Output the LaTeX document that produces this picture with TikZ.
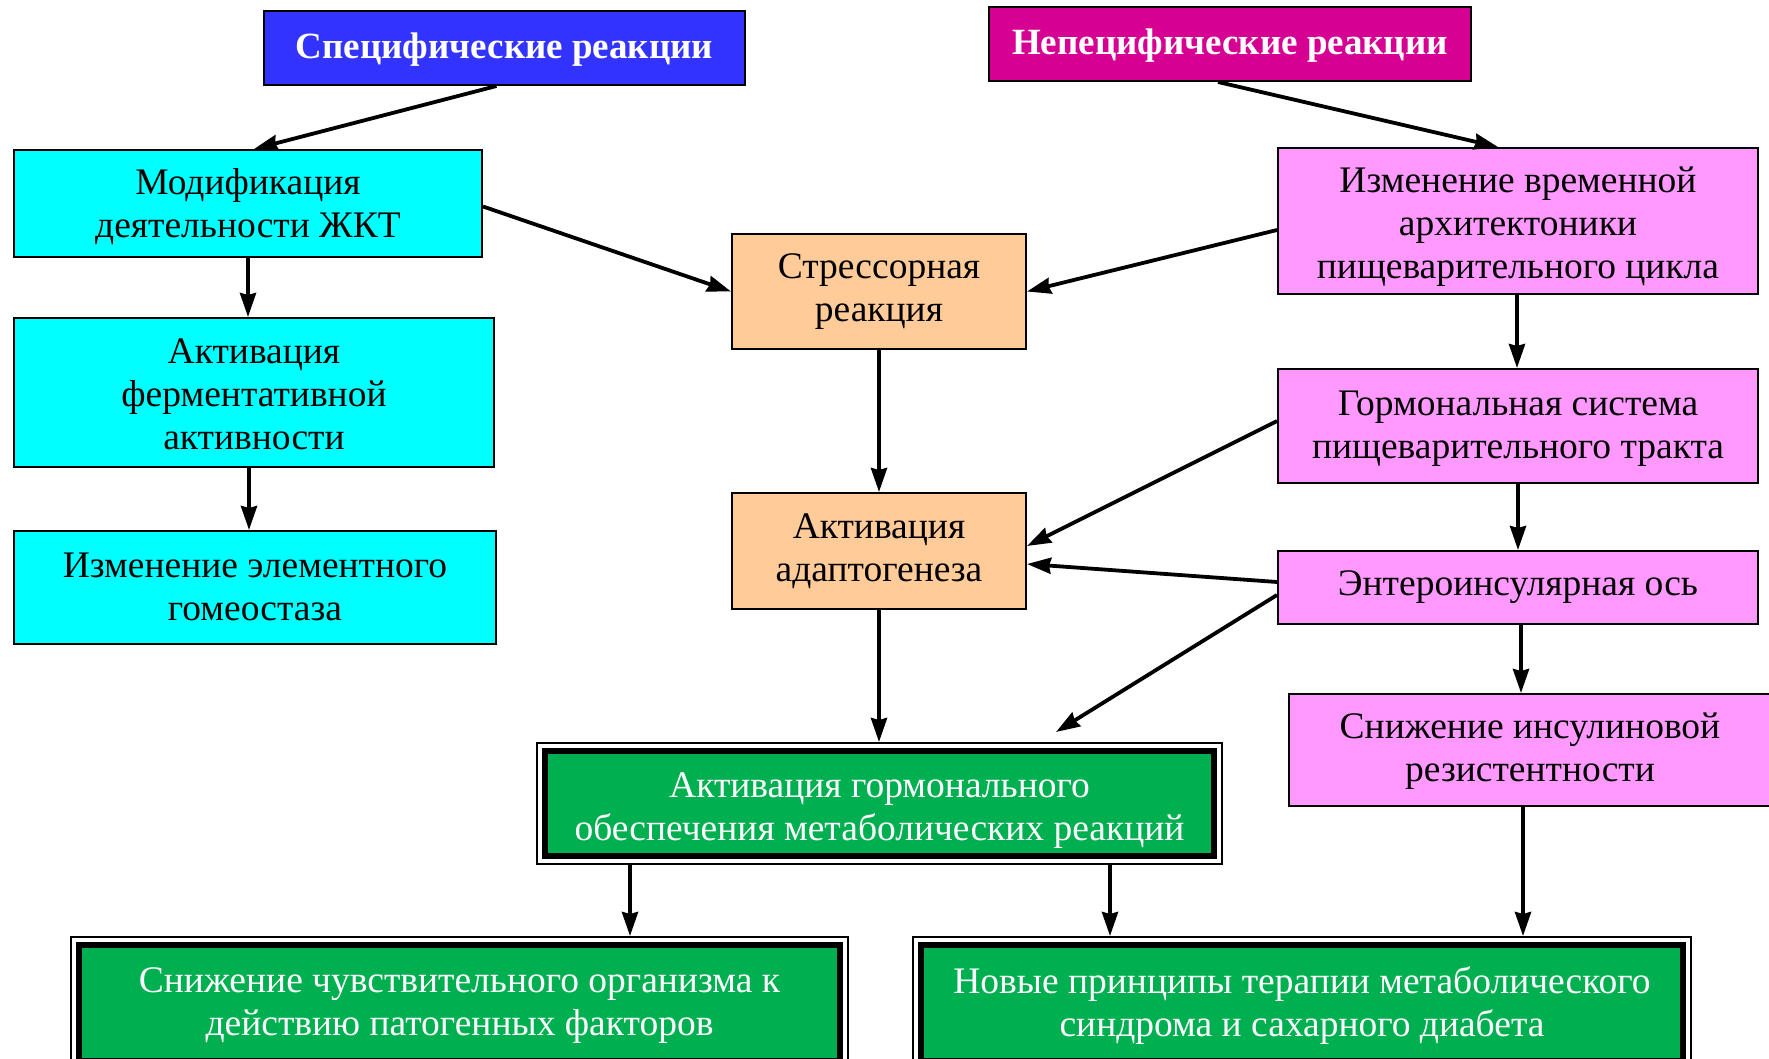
\documentclass[tikz,border=0pt]{standalone}
\usepackage{fontspec}
\setmainfont{Liberation Serif}
\usetikzlibrary{arrows.meta,calc}
\definecolor{cblue}{HTML}{3333FF}
\definecolor{cmag}{HTML}{D60093}
\definecolor{ccyan}{HTML}{00FFFF}
\definecolor{corange}{HTML}{FFCC99}
\definecolor{cpink}{HTML}{FF99FF}
\definecolor{cgreen}{HTML}{00B050}
\begin{document}
\begin{tikzpicture}[x=1pt,y=-1pt,
  box/.style={draw=black, line width=2pt, inner sep=0pt},
  txt/.style={inner sep=0pt, align=center, font=\fontsize{37.5}{43}\selectfont},
  hdrtxt/.style={inner sep=0pt, align=center, text=white, font=\bfseries\fontsize{37}{44}\selectfont},
  gframe/.style={draw=black, line width=2pt, inner sep=0pt, fill=white},
  ginner/.style={draw=black, line width=6pt, fill=cgreen, inner sep=0pt},
  gtxt/.style={txt, text=white},
  arr/.style={line width=3.8pt, -{Stealth[length=24pt,width=16pt,inset=2pt]}}
]
\fill[white] (0,0) rectangle (1769,1059);
\useasboundingbox (0,0) rectangle (1769,1059);

% headers
\node[box, fill=cblue, minimum width=481pt, minimum height=74pt] (spec) at (504.5,48) {};
\node[hdrtxt] (spect) at ([yshift=-2pt]spec.center) {Специфические реакции};
\node[box, fill=cmag, minimum width=482pt, minimum height=74pt] (nspec) at (1230,44) {};
\node[hdrtxt] (nspect) at ([yshift=-2pt]nspec.center) {Непецифические реакции};

% left column
\node[box, fill=ccyan, minimum width=468pt, minimum height=107pt] (c1) at (248,203.5) {};
\node[txt] (c1t) at ([yshift=-3.5pt]c1.center) {Модификация\\деятельности ЖКТ};
\node[box, fill=ccyan, minimum width=480pt, minimum height=149pt] (c2) at (254,392.5) {};
\node[txt] (c2t) at ([yshift=-2pt]c2.center) {Активация\\ферментативной\\активности};
\node[box, fill=ccyan, minimum width=482pt, minimum height=113pt] (c3) at (255,587.5) {};
\node[txt] (c3t) at ([yshift=1pt]c3.center) {Изменение элементного\\гомеостаза};

% middle column
\node[box, fill=corange, minimum width=294pt, minimum height=115pt] (o1) at (879,291.5) {};
\node[txt] (o1t) at (o1.center) {Стрессорная\\реакция};
\node[box, fill=corange, minimum width=294pt, minimum height=116pt] (o2) at (879,551) {};
\node[txt] (o2t) at (o2.center) {Активация\\адаптогенеза};

% right column
\node[box, fill=cpink, minimum width=480pt, minimum height=146pt] (p1) at (1518,221) {};
\node[txt] (p1t) at ([yshift=-5.5pt]p1.center) {Изменение временной\\архитектоники\\пищеварительного цикла};
\node[box, fill=cpink, minimum width=480pt, minimum height=114pt] (p2) at (1518,426) {};
\node[txt] (p2t) at ([yshift=-2.5pt]p2.center) {Гормональная система\\пищеварительного тракта};
\node[box, fill=cpink, minimum width=480pt, minimum height=73pt] (p3) at (1518,587.5) {};
\node[txt] (p3t) at (p3.center) {Энтероинсулярная ось};
\node[box, fill=cpink, minimum width=482pt, minimum height=112pt] (p4) at (1530,750) {};
\node[txt] (p4t) at ([yshift=-1.5pt]p4.center) {Снижение инсулиновой\\резистентности};

% green boxes
\node[gframe, minimum width=685pt, minimum height=121pt] (gm) at (879.5,803.5) {};
\node[ginner, minimum width=669pt, minimum height=105pt] (gmi) at (gm.center) {};
\node[gtxt] (gmt) at ([yshift=-7.5pt]gm.center) {Активация гормонального\\обеспечения метаболических реакций};
\node[gframe, minimum width=777pt, minimum height=132pt] (gl) at (459.5,1003) {};
\node[ginner, minimum width=761pt, minimum height=116pt] (gli) at (gl.center) {};
\node[gtxt] (glt) at ([yshift=-3pt]gl.center) {Снижение чувствительного организма к\\действию патогенных факторов};
\node[gframe, minimum width=778pt, minimum height=132pt] (gr) at (1302,1003) {};
\node[ginner, minimum width=762pt, minimum height=116pt] (gri) at (gr.center) {};
\node[gtxt] (grt) at ([yshift=-3pt]gr.center) {Новые принципы терапии метаболического\\синдрома и сахарного диабета};

\coordinate (free) at ([xshift=176.5pt,yshift=10pt]gm.north);

% arrows
\draw[arr] ([xshift=-8pt]spec.south) -- ([xshift=6pt]c1.north);
\draw[arr] ([xshift=-12pt]nspec.south) -- ([xshift=-20pt]p1.north);
\draw[arr] ([yshift=-3pt]c1.east) -- (o1.west);
\draw[arr] ([yshift=-9pt]p1.west) -- (o1.east);
\draw[arr] (c1.south) -- (c1.south |- c2.north);
\draw[arr] ([xshift=-5pt]c2.south) -- ([xshift=-5pt]c2.south |- c3.north);
\draw[arr] (o1.south) -- (o2.north);
\draw[arr] ([xshift=-1pt]p1.south) -- ([xshift=-1pt]p1.south |- p2.north);
\draw[arr] ([yshift=5pt]p2.west) -- ([yshift=5pt]o2.east);
\draw[arr] ([yshift=5.5pt]p3.west) -- ([yshift=-13pt]o2.east);
\draw[arr] (p2.south) -- (p2.south |- p3.north);
\draw[arr] ([xshift=3pt]p3.south) -- ([xshift=3pt]p3.south |- p4.north);
\draw[arr] ([yshift=-7.5pt]p3.west) -- (free);
\draw[arr] (o2.south) -- (o2.south |- gm.north);
\draw[arr] ([xshift=-249.5pt]gm.south) -- ([xshift=-249.5pt]gm.south |- gl.north);
\draw[arr] ([xshift=230.5pt]gm.south) -- ([xshift=230.5pt]gm.south |- gr.north);
\draw[arr] ([xshift=-7pt]p4.south) -- ([xshift=-7pt]p4.south |- gr.north);
\end{tikzpicture}
\end{document}
